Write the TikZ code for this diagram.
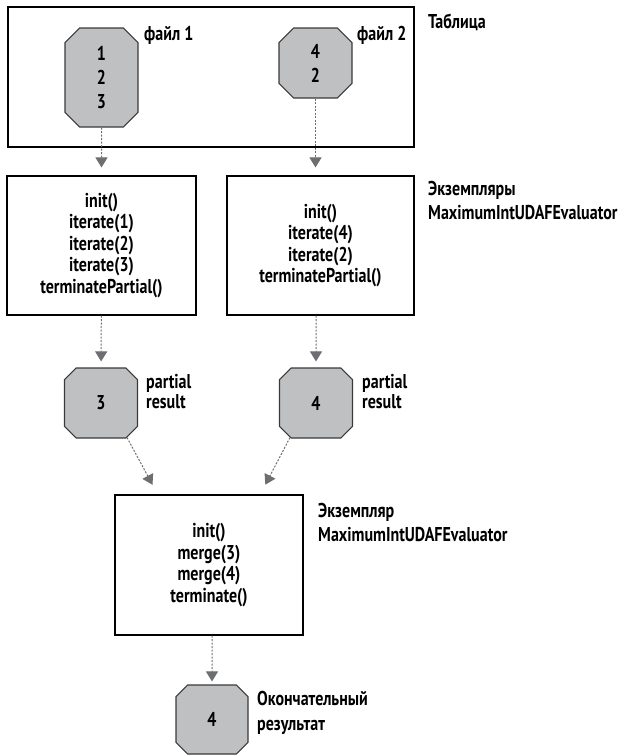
\documentclass[tikz,border=0pt]{standalone}
\usepackage{fontspec}
\setmainfont{PT Sans}[FakeStretch=0.8]
\usetikzlibrary{shapes.misc,arrows.meta,positioning}

\definecolor{cellgray}{HTML}{BFC0C2}
\definecolor{edgegray}{HTML}{3A3A3A}
\definecolor{flowgray}{HTML}{6D6E71}

\begin{document}
\begin{tikzpicture}[x=1pt, y=1pt,
  frame/.style={draw, line width=1.1pt, inner sep=0pt},
  cell/.style={chamfered rectangle, chamfered rectangle xsep=10pt, chamfered rectangle ysep=10pt,
    draw=edgegray, line width=1.1pt, fill=cellgray, inner sep=0pt, minimum width=73pt,
    font=\fontsize{20}{24}\selectfont\bfseries, align=center},
  calls/.style={align=center, font=\fontsize{20}{21.5}\selectfont\bfseries},
  lbl/.style={anchor=west, align=left, font=\fontsize{20}{24}\selectfont\bfseries, inner sep=0pt},
  flow/.style={flowgray, line width=1pt, dash pattern=on 2pt off 1.5pt,
    -{Triangle[width=12pt, length=10pt]}}
]
\useasboundingbox (0,0) rectangle (632,-755);

%--- Table with the two files ---
\node[frame, minimum width=406pt, minimum height=140pt] (tab) at (211,-77) {};
\node[cell, minimum height=99pt] (f1) at (101.5,-77.5) {1\\2\\3};
\node[cell, minimum height=70pt] (f2) at (315.5,-63) {4\\2};
\node[lbl] (f1lbl) at (144,-35) {файл 1};
\node[lbl] (f2lbl) at (357,-35) {файл 2};
\node[lbl] (tablbl) at (428,-22) {Таблица};

%--- Partial evaluators ---
\node[frame, minimum width=189pt, minimum height=139pt, calls] (evA) at (101.5,-245.5)
  {init()\\iterate(1)\\iterate(2)\\iterate(3)\\terminatePartial()};
\node[frame, minimum width=187pt, minimum height=139pt, calls] (evB) at (320.5,-245.5)
  {init()\\iterate(4)\\iterate(2)\\terminatePartial()};
\node[lbl] (evlbl) at (428,-200) {Экземпляры\\MaximumIntUDAFEvaluator};

%--- Partial results ---
\node[cell, minimum height=70pt] (p1) at (101,-403) {3};
\node[cell, minimum height=70pt] (p2) at (316,-403) {4};
\node[lbl, font=\fontsize{20}{20}\selectfont\bfseries] (p1lbl) at (146,-392) {partial\\result};
\node[lbl, font=\fontsize{20}{20}\selectfont\bfseries] (p2lbl) at (362,-392) {partial\\result};

%--- Merging evaluator ---
\node[frame, minimum width=188pt, minimum height=140pt, calls] (evC) at (209,-565)
  {init()\\merge(3)\\merge(4)\\terminate()};
\node[lbl] (evClbl) at (318,-522.5) {Экземпляр\\MaximumIntUDAFEvaluator};

%--- Final result ---
\node[cell, minimum width=72pt, minimum height=69pt] (fin) at (212,-719.5) {4};
\node[lbl, font=\fontsize{20}{25}\selectfont\bfseries] (finlbl) at (257,-712.5) {Окончательный\\результат};

%--- Connectors ---
\draw[flow, shorten >=8pt] (f1) -- (evA);
\draw[flow, shorten >=8pt] (f2.south) -- (f2.south |- evB.north);
\draw[flow, shorten >=6pt] (evA) -- (p1);
\draw[flow, shorten >=6pt] (p2.north |- evB.south) -- (p2);
\draw[flow, shorten >=11pt] (p1.-53) -- (evC.126);
\draw[flow, shorten >=11pt] (p2.-127) -- (evC.54);
\draw[flow, shorten >=3pt] (evC.south -| fin.north) -- (fin);
\end{tikzpicture}
\end{document}
